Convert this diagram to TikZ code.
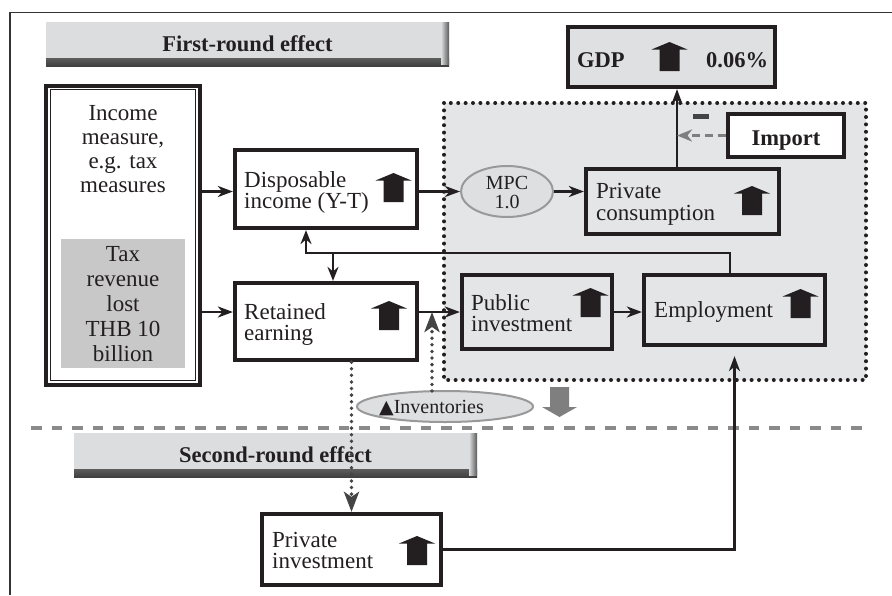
\documentclass[tikz,border=0pt]{standalone}
\usepackage{fontspec}
\setmainfont{Liberation Serif}
\newfontfamily\symfont{DejaVu Sans}
\usetikzlibrary{arrows.meta,shapes.geometric}

\definecolor{ink}{HTML}{231F20}
\definecolor{zone}{HTML}{E4E5E6}
\definecolor{bannerc}{HTML}{DCDDDF}
\definecolor{taxgray}{HTML}{C8C8C8}
\definecolor{ellfill}{HTML}{DEDFE0}
\definecolor{ellline}{HTML}{999999}
\definecolor{dotgray}{HTML}{444444}
\definecolor{sepgray}{HTML}{8A8A8A}
\definecolor{blockgray}{HTML}{7F7F7F}
\definecolor{gdpfill}{HTML}{DFE0E1}

% stacked lines with a fixed baseline distance; the baseline is that of the first line
\newcommand\leftlines[2][20pt]{\vtop{\baselineskip=#1\lineskiplimit=-\maxdimen\halign{##\hfil\cr#2\crcr}}}
\newcommand\midlines[2][24pt]{\vtop{\baselineskip=#1\lineskiplimit=-\maxdimen\halign{\hfil##\hfil\cr#2\crcr}}}
\newcommand\bodyfont{\fontsize{23}{26}\selectfont}
\newcommand\headfont{\fontsize{22.5}{26}\selectfont\bfseries}
\newcommand\smallfont{\fontsize{20}{24}\selectfont}

\tikzset{
  box/.style={draw=ink, line width=4.2pt, inner sep=0pt},
  txt/.style={font=\bodyfont, text=ink, inner sep=0pt, anchor=base west},
  ctxt/.style={font=\bodyfont, text=ink, inner sep=0pt, anchor=base},
  headtxt/.style={font=\headfont, text=ink, inner sep=0pt},
  banner/.style={fill=bannerc, inner sep=0pt, font=\headfont, text=ink,
    path picture={
      \shade[top color=bannerc, bottom color=black!75]
        ([yshift=8pt]path picture bounding box.south west) rectangle (path picture bounding box.south east);
      \shade[left color=bannerc, right color=black!65]
        ([xshift=-8pt]path picture bounding box.north east) rectangle ([yshift=2pt]path picture bounding box.south east);
    }},
  oval/.style={ellipse, fill=ellfill, draw=ellline, line width=2pt, inner sep=0pt},
  conn/.style={draw=ink, line width=2.5pt, -{Stealth[length=15pt,width=11pt,inset=4.5pt]}},
  fb/.style={draw=ink, line width=2.2pt, -{Stealth[length=14pt,width=11pt,inset=4.5pt]}},
  dashconn/.style={draw=blockgray, line width=2.6pt, dash pattern=on 8pt off 5pt,
    -{Stealth[length=15pt,width=12pt,inset=4.5pt]}},
  dotconn/.style={draw=dotgray, line width=3.8pt, line cap=round, dash pattern=on 0pt off 6.6pt,
    -{Stealth[length=20pt,width=15pt,inset=5pt]}},
  zonedots/.style={draw=ink, line width=4pt, line cap=round, dash pattern=on 0pt off 7.4pt},
  upicon/.pic={
    \fill[ink] (0,0) -- (18,7.5) -- (10,7.5) -- (10,29) -- (-10,29) -- (-10,7.5) -- (-18,7.5) -- cycle;
  },
}

\begin{document}
\begin{tikzpicture}[x=1pt,y=-1pt]
\useasboundingbox (0,0) rectangle (892,595);
\fill[white] (0,0) rectangle (892,595);

% outer frame
\draw[draw=black!80, line width=1.2pt] (10,595) -- (10,12.7) -- (892,12.7);

% round labels
\node[banner, minimum width=403pt, minimum height=44pt] (first) at (247.5,44) {First-round effect};
\node[banner, minimum width=403pt, minimum height=44pt] (second) at (275.5,455) {Second-round effect};

% shaded zone of the first-round effect
\fill[zone] (444,103) rectangle (866,380);
\draw[zonedots] (444,103) rectangle (866,380);

% separator between the two rounds
\draw[draw=sepgray, line width=3.2pt, dash pattern=on 10.5pt off 10pt] (31,428) -- (865,428);

% income measure
\node[box, line width=3.6pt, fill=white, minimum width=154pt, minimum height=299pt] (inc) at (123,235.5) {};
\node[draw=ink, line width=1.6pt, inner sep=0pt, minimum width=145pt, minimum height=291pt] (incin) at (123,235) {};
\node[ctxt] (inct) at (123,120) {\midlines[24pt]{Income\cr measure,\cr e.g. tax\cr measures}};
\node[fill=taxgray, inner sep=0pt, minimum width=124pt, minimum height=129pt] (tax) at (123,303.5) {};
\node[ctxt] (taxt) at (123,261) {\midlines[25pt]{Tax\cr revenue\cr lost\cr THB 10\cr billion}};

% boxes
\node[box, fill=white, minimum width=182pt, minimum height=78pt] (disp) at (326,189) {};
\node[txt] (dispt) at (244,187) {\leftlines[21pt]{Disposable\cr income (Y-T)}};
\pic at (393.5,173) {upicon};

\node[box, fill=white, minimum width=182pt, minimum height=77pt] (ret) at (326,321.5) {};
\node[txt] (rett) at (244,319) {\leftlines[21pt]{Retained\cr earning}};
\pic at (389,301) {upicon};

\node[box, fill=gdpfill, minimum width=207pt, minimum height=60pt] (gdp) at (671.5,57) {};
\node[headtxt, anchor=base west] (gdpt) at (577,67) {GDP};
\node[headtxt, anchor=base west] (gdpv) at (706,67) {0.06\%};
\pic at (669.5,42) {upicon};

\node[box, line width=3.6pt, fill=white, minimum width=116pt, minimum height=43pt] (imp) at (786,135.5) {};
\node[headtxt, anchor=base] (impt) at (786,145) {Import};
\node[fill=dotgray, inner sep=0pt, minimum width=16pt, minimum height=5pt] (minus) at (701,116.5) {};

\node[oval, minimum width=92pt, minimum height=51pt] (mpc) at (507,191.5) {};
\node[font=\smallfont, text=ink, inner sep=0pt, anchor=base] (mpct) at (507,189) {\midlines[19pt]{MPC\cr 1.0}};

\node[box, fill=zone, minimum width=193pt, minimum height=65pt] (pc) at (682.5,201.5) {};
\node[txt] (pct) at (596,198) {\leftlines[22pt]{Private\cr consumption}};
\pic at (752,186) {upicon};

\node[box, fill=zone, minimum width=150pt, minimum height=74pt] (pub) at (537,312) {};
\node[txt] (pubt) at (471,310) {\leftlines[21.5pt]{Public\cr investment}};
\pic at (590.5,288) {upicon};

\node[box, fill=zone, minimum width=181pt, minimum height=70pt] (emp) at (734.5,310) {};
\node[txt] (empt) at (654,317) {Employment};
\pic at (800.5,289) {upicon};

\node[oval, minimum width=176pt, minimum height=31pt] (inv) at (445,406.5) {};
\node[font=\smallfont, text=ink, inner sep=0pt, anchor=base west] (invt) at (379,413) {{\symfont\fontsize{19}{20}\selectfont ▲}Inventories};

\node[box, fill=white, minimum width=179pt, minimum height=71pt] (pi) at (351.5,549.5) {};
\node[txt] (pit) at (272,547) {\leftlines[21.5pt]{Private\cr investment}};
\pic at (417,536) {upicon};

% grey block arrow under the zone
\fill[blockgray] (550,387) -- (569,387) -- (569,407) -- (577,407) -- (559.5,417) -- (542,407) -- (550,407) -- cycle;

% connectors
\coordinate (gdpline) at (677,130);
\coordinate (fbR) at (730,253);
\coordinate (fbL) at (306,253);
\coordinate (fbD) at (333,253);
\coordinate (invx) at (432,391);

\draw[conn] (inc.east |- mpc.west) -- (disp.west |- mpc.west);
\draw[conn] (inc.east |- pub.west) -- (ret.west |- pub.west);
\draw[conn] (disp.east |- mpc.west) -- (mpc.west);
\draw[conn] (mpc.east) -- (mpc.east -| pc.west);
\draw[conn] (ret.east |- pub.west) -- (pub.west);
\draw[conn] (pub.east) -- (pub.east -| emp.west);
\draw[conn] (pc.north -| gdpline) -- (gdp.south -| gdpline);
\draw[dashconn] (imp.west) -- (imp.west -| gdpline);
\draw[fb] (emp.north -| fbR) -- (fbR) -- (fbL) -- (fbL |- disp.south);
\draw[fb] (fbD) -- (fbD |- ret.north);
\draw[dotconn] (invx) -- (invx |- pub.west);
\draw[dotconn] (pi.north |- ret.south) -- (pi.north);
\draw[conn] (pi.east) -| ([yshift=-9pt]emp.south);
\end{tikzpicture}
\end{document}
